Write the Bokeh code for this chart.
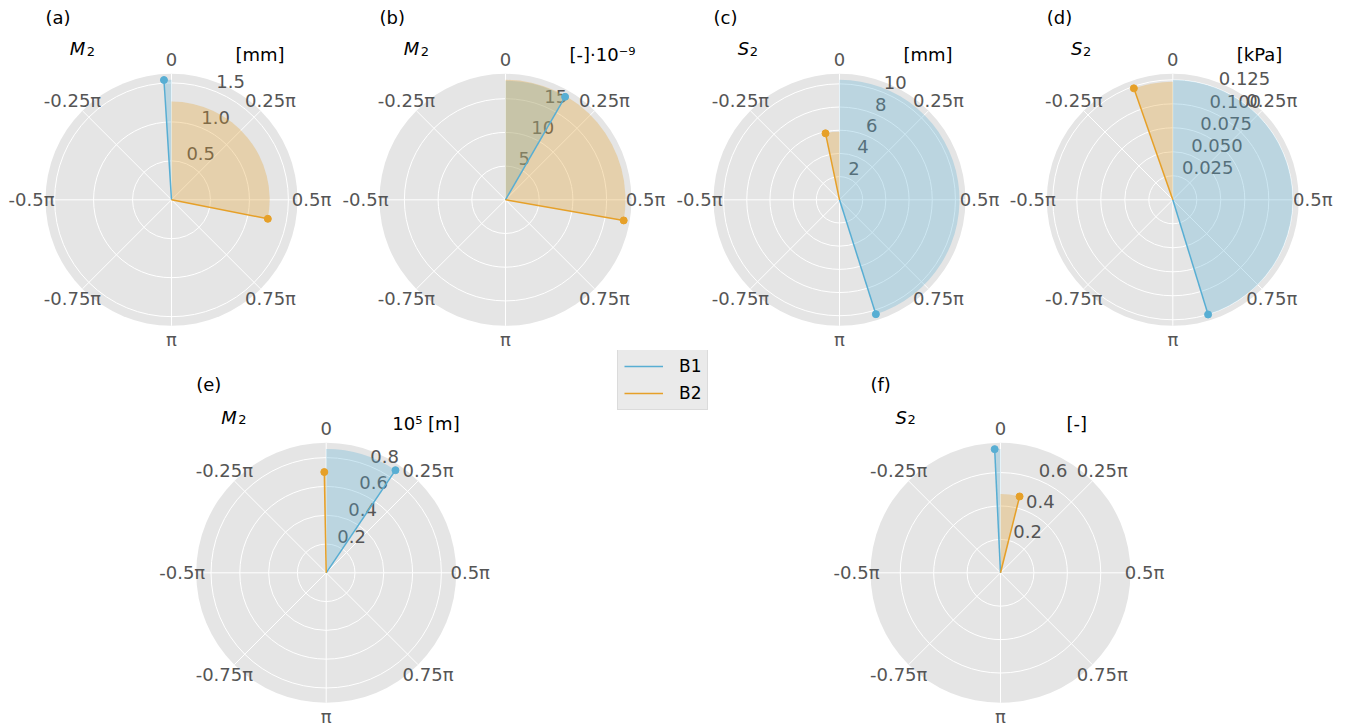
import numpy as np
from bokeh.plotting import figure
from bokeh.layouts import row, column
from bokeh.models import Range1d, Legend, LegendItem
from bokeh.core.properties import value
from bokeh.embed import file_html
from bokeh.resources import INLINE

# ---------------- data ----------------
panel_tags = ["(a)", "(b)", "(c)", "(d)", "(e)", "(f)"]
quantity = ["M", "M", "S", "S", "M", "S"]
units = ["[mm]", "[-]·10⁻⁹", "[mm]", "[kPa]", "10⁵ [m]", "[-]"]
series_names = ["B1", "B2"]
b1_r = [1.54, 17.65, 10.35, 0.125, 0.86, 0.741]
b1_theta = [-0.020, 0.167, 0.902, 0.905, 0.189, -0.015]   # in units of pi
b2_r = [1.26, 17.8, 5.86, 0.123, 0.70, 0.471]
b2_theta = [0.562, 0.555, -0.066, -0.107, -0.006, 0.078]  # in units of pi
r_ticks = [[0.5, 1.0, 1.5], [5, 10, 15], [2, 4, 6, 8, 10],
           [0.025, 0.05, 0.075, 0.1, 0.125], [0.2, 0.4, 0.6, 0.8], [0.2, 0.4, 0.6]]
r_tick_labels = [["0.5", "1.0", "1.5"], ["5", "10", "15"], ["2", "4", "6", "8", "10"],
                 ["0.025", "0.050", "0.075", "0.100", "0.125"],
                 ["0.2", "0.4", "0.6", "0.8"], ["0.2", "0.4", "0.6"]]
theta_ticks = [0, 0.25, 0.5, 0.75, 1.0, -0.75, -0.5, -0.25]
theta_tick_labels = ["0", "0.25π", "0.5π", "0.75π", "π", "-0.75π", "-0.5π", "-0.25π"]

# ---------------- style ----------------
C1 = "#58AED3"
C2 = "#E6A028"
DISK = "#E5E5E5"
TICK = "#555555"
FONT = value("DejaVu Sans")
SUB_OFF = {"M": 17, "S": 12}


def polar_panel(i, fw, fh, cx, cy, R_px):
    rmax = 1.05 * max(b1_r[i], b2_r[i])
    s = R_px / rmax
    p = figure(frame_width=fw, frame_height=fh,
               x_range=Range1d(-cx / s, (fw - cx) / s),
               y_range=Range1d(-(fh - cy) / s, cy / s),
               output_backend="svg", toolbar_location=None, title=None,
               x_axis_location=None, y_axis_location=None,
               min_border=0, outline_line_color=None)
    p.grid.visible = False
    p.background_fill_color = "white"
    p.border_fill_color = "white"

    # disk and grid
    p.circle(x=[0], y=[0], radius=[rmax], fill_color=DISK, line_color=None)
    ticks = np.array(r_ticks[i], dtype=float)
    p.circle(x=np.zeros(len(ticks)), y=np.zeros(len(ticks)), radius=ticks,
             fill_color=None, line_color="white", line_width=1)
    ang = np.array(theta_ticks) * np.pi
    p.segment(x0=np.zeros(len(ang)), y0=np.zeros(len(ang)),
              x1=rmax * np.sin(ang), y1=rmax * np.cos(ang),
              line_color="white", line_width=1)

    # radial tick labels (drawn beneath the fills)
    rl = 22.5 / 180 * np.pi
    p.text(x=ticks * np.sin(rl), y=ticks * np.cos(rl), text=r_tick_labels[i],
           text_align="left", text_baseline="alphabetic", y_offset=-10, text_font=FONT,
           text_font_size="18px", text_color=TICK)

    series = [(b1_r[i], b1_theta[i], C1), (b2_r[i], b2_theta[i], C2)]
    for r, th, col in series:
        a0 = np.pi / 2 - th * np.pi
        start, end = min(a0, np.pi / 2), max(a0, np.pi / 2)
        p.wedge(x=[0], y=[0], radius=[r], start_angle=[start], end_angle=[end],
                direction="anticlock", fill_color=col, fill_alpha=0.3, line_color=None)
    for r, th, col in series:
        x = r * np.sin(th * np.pi)
        y = r * np.cos(th * np.pi)
        p.segment(x0=[0], y0=[0], x1=[x], y1=[y], line_color=col, line_width=1.5)
        p.scatter(x=[x], y=[y], size=7, fill_color=col, line_color=col)

    # angular labels
    rt = rmax + 14 / s
    p.text(x=rt * np.sin(ang), y=rt * np.cos(ang), text=theta_tick_labels,
           text_align="center", text_baseline="middle", text_font=FONT,
           text_font_size="18px", text_color=TICK)

    # titles
    p.text(x=[-rmax], y=[1.445 * rmax], text=[panel_tags[i]], text_align="left",
           text_baseline="middle", text_font=FONT, text_font_size="18px", text_color="black")
    q = quantity[i]
    p.text(x=[-0.807 * rmax], y=[1.198 * rmax], text=[q], text_align="left",
           text_baseline="alphabetic", text_font=FONT, text_font_style="italic",
           text_font_size="18px", text_color="black")
    p.text(x=[-0.807 * rmax], y=[1.198 * rmax], text=["2"], text_align="left",
           text_baseline="alphabetic", x_offset=SUB_OFF[q], y_offset=2.5, text_font=FONT,
           text_font_size="13px", text_color="black")
    p.text(x=[0.508 * rmax], y=[1.151 * rmax], text=[units[i]], text_align="left",
           text_baseline="middle", text_font=FONT, text_font_size="18px", text_color="black")
    return p


# top row: panel widths and centre positions (pixels)
top_w = [338, 334, 334, 346]
top_cx = [171, 167, 167, 166.3]
top = [polar_panel(i, top_w[i], 350, top_cx[i], 199.3, 126) for i in range(4)]
pe = polar_panel(4, 508, 376, 325.7, 222.3, 130)
pf = polar_panel(5, 524, 376, 172, 222.3, 130)

lp = figure(frame_width=320, frame_height=376, x_range=Range1d(0, 1), y_range=Range1d(0, 1),
            output_backend="svg", toolbar_location=None, title=None,
            x_axis_location=None, y_axis_location=None, min_border=0, outline_line_color=None)
lp.grid.visible = False
r1 = lp.line(x=[5, 6], y=[5, 6], line_color=C1, line_width=1.5)
r2 = lp.line(x=[5, 6], y=[5, 6], line_color=C2, line_width=1.5)
legend = Legend(items=[LegendItem(label=series_names[0], renderers=[r1]),
                       LegendItem(label=series_names[1], renderers=[r2])],
                location=(109, 316), margin=0, padding=6, spacing=7,
                glyph_width=39, glyph_height=20, label_height=20, label_standoff=16,
                label_text_font="DejaVu Sans", label_text_font_size="17px",
                label_text_color="black",
                background_fill_color=DISK, background_fill_alpha=0.8,
                border_line_color="#CCCCCC", border_line_width=1)
lp.add_layout(legend)

layout = column(row(*top), row(pe, lp, pf))
open("out.html", "w").write(file_html(layout, INLINE))
